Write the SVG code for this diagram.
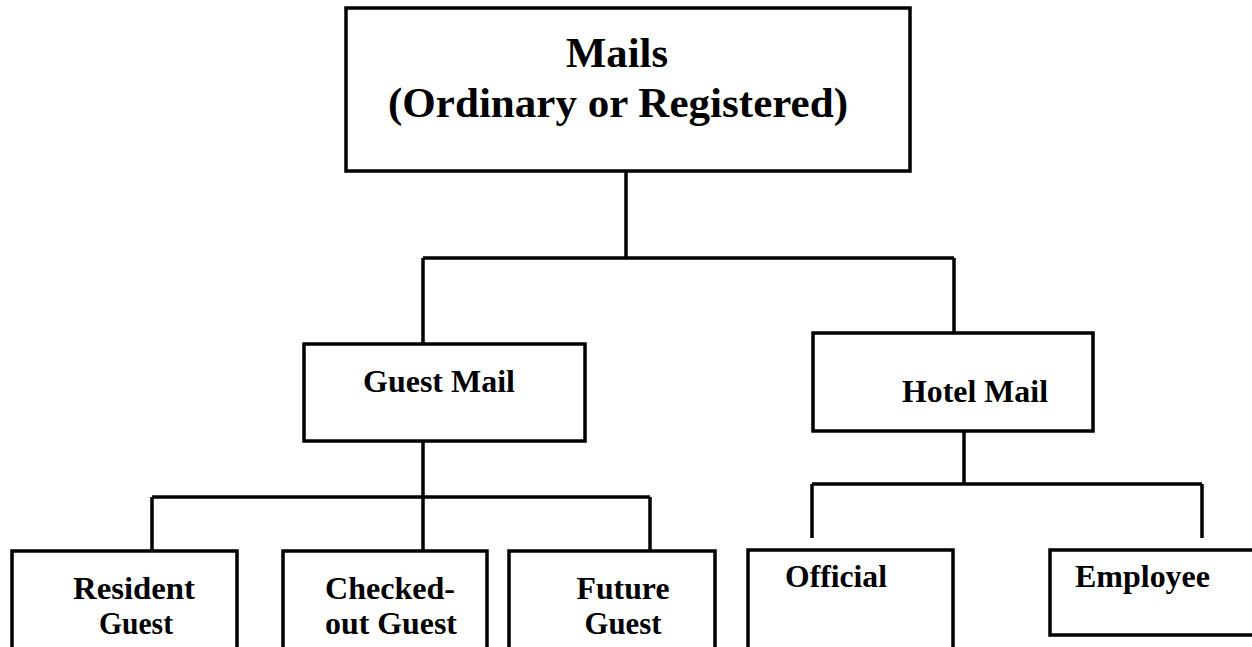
<svg xmlns="http://www.w3.org/2000/svg" width="1252" height="647" viewBox="0 0 1252 647">
<style>
.box{fill:#fff;stroke:#000;stroke-width:3.5}
.conn{fill:none;stroke:#000;stroke-width:3.5}
text{font-family:"Liberation Serif","Times New Roman",serif;font-weight:bold;fill:#000}
.t1{font-size:42px}
.t2{font-size:31px}
.t3{font-size:31px}
</style>
<rect width="1252" height="647" fill="#fff"/>
<g id="connectors">
<path class="conn" d="M626 171V258M423 258H954M423 258V344M954 258V333"/>
<path class="conn" d="M423 441V551M152 497H650M152 497V551M650 497V551"/>
<path class="conn" d="M964 431V484M812 484H1202M812 484V538M1202 484V538"/>
</g>
<g id="mails">
<rect class="box" x="346" y="8" width="564" height="163"/>
<text class="t1" x="617" y="67" text-anchor="middle" textLength="102" lengthAdjust="spacingAndGlyphs">Mails</text>
<text class="t1" x="618" y="117" text-anchor="middle" textLength="460" lengthAdjust="spacingAndGlyphs">(Ordinary or Registered)</text>
</g>
<g id="guest-mail">
<rect class="box" x="304" y="344" width="281" height="97"/>
<text class="t2" x="439" y="392" text-anchor="middle" textLength="152" lengthAdjust="spacingAndGlyphs">Guest Mail</text>
</g>
<g id="hotel-mail">
<rect class="box" x="813" y="333" width="280" height="98"/>
<text class="t2" x="975" y="402" text-anchor="middle" textLength="146" lengthAdjust="spacingAndGlyphs">Hotel Mail</text>
</g>
<g id="resident-guest">
<rect class="box" x="12" y="551" width="225" height="110"/>
<text class="t3" x="134" y="599" text-anchor="middle" textLength="122" lengthAdjust="spacingAndGlyphs">Resident</text>
<text class="t3" x="136" y="634" text-anchor="middle" textLength="74" lengthAdjust="spacingAndGlyphs">Guest</text>
</g>
<g id="checked-out-guest">
<rect class="box" x="283" y="551" width="204" height="110"/>
<text class="t3" x="390" y="599" text-anchor="middle" textLength="130" lengthAdjust="spacingAndGlyphs">Checked-</text>
<text class="t3" x="391" y="634" text-anchor="middle" textLength="132" lengthAdjust="spacingAndGlyphs">out Guest</text>
</g>
<g id="future-guest">
<rect class="box" x="509" y="551" width="206" height="110"/>
<text class="t3" x="623" y="599" text-anchor="middle" textLength="93" lengthAdjust="spacingAndGlyphs">Future</text>
<text class="t3" x="623" y="634" text-anchor="middle" textLength="77" lengthAdjust="spacingAndGlyphs">Guest</text>
</g>
<g id="official">
<rect class="box" x="748" y="550" width="205" height="110"/>
<text class="t3" x="785" y="587" textLength="102" lengthAdjust="spacingAndGlyphs">Official</text>
</g>
<g id="employee">
<rect class="box" x="1050" y="550" width="215" height="85"/>
<text class="t3" x="1075" y="587" textLength="135" lengthAdjust="spacingAndGlyphs">Employee</text>
</g>
</svg>
